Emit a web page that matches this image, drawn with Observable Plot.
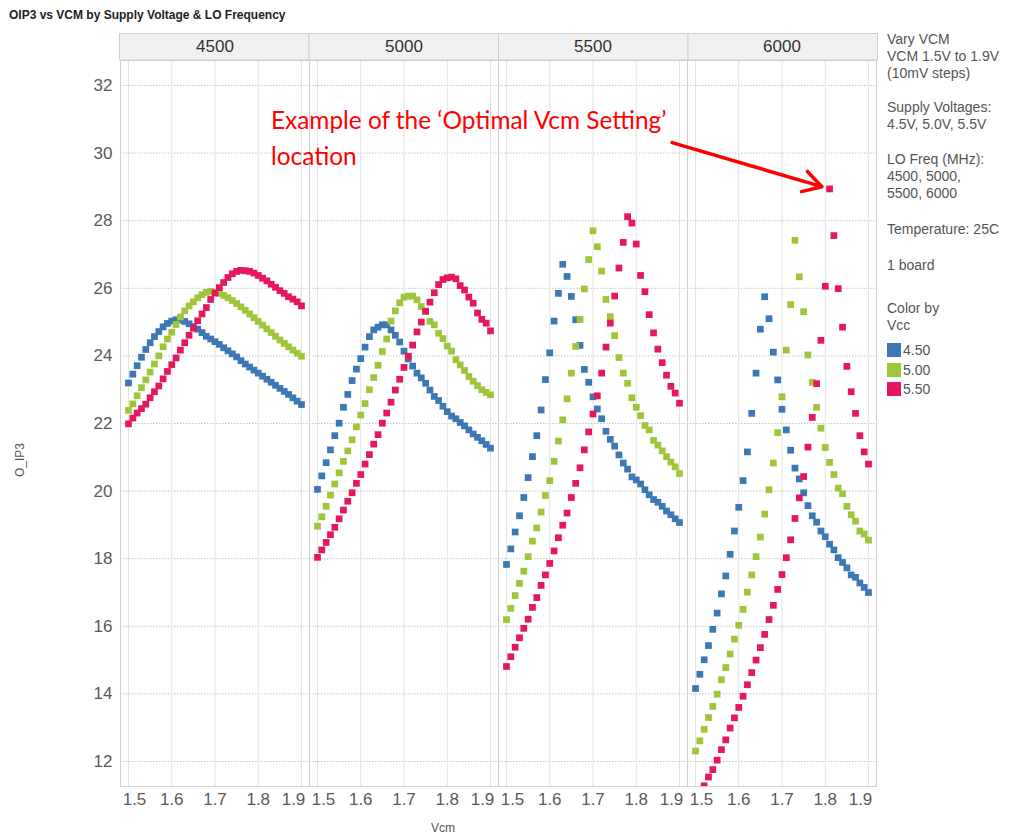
<!DOCTYPE html>
<html>
<head>
<meta charset="utf-8">
<script src="https://cdn.jsdelivr.net/npm/d3@7"></script>
<script src="https://cdn.jsdelivr.net/npm/@observablehq/plot@0.6"></script>
<style>
  body { margin: 0; background: #fff; font-family: "Liberation Sans", Arial, sans-serif; }
  #wrap { position: relative; width: 1013px; height: 840px; overflow: hidden; background: #fff; }
  #wrap svg { position: absolute; left: 0; top: 0; }
  .abs { position: absolute; white-space: nowrap; }
  .title { left: 9px; top: 8px; font-size: 12px; font-weight: bold; color: #222; }
  .legend { left: 887px; font-size: 14px; color: #555; line-height: 17px; }
  .sw { display: inline-block; width: 14px; height: 14px; vertical-align: -2px; margin-right: 2px; }
  .axt { font-size: 12px; color: #555; }
  .note { left: 271px; font-family: Lato, "Open Sans", sans-serif; font-size: 24.4px; color: #ff0000; }
</style>
</head>
<body>
<div id="wrap"></div>
<script>
// ---------- data ----------
const loFreqs = ["4500", "5000", "5500", "6000"];
const vccLevels = ["4.50", "5.00", "5.50"];
const vccColors = ["#3c78b4", "#9fc63b", "#e6185d"];
const yTicks = [12, 14, 16, 18, 20, 22, 24, 26, 28, 30, 32];
const xTicks = [1.5, 1.6, 1.7, 1.8, 1.9];

const vcm = [1.50,1.51,1.52,1.53,1.54,1.55,1.56,1.57,1.58,1.59,1.60,1.61,1.62,1.63,1.64,1.65,1.66,1.67,1.68,1.69,
             1.70,1.71,1.72,1.73,1.74,1.75,1.76,1.77,1.78,1.79,1.80,1.81,1.82,1.83,1.84,1.85,1.86,1.87,1.88,1.89,1.90];

const oip3_4500_v450 = [23.2,23.46,23.71,23.96,24.19,24.39,24.57,24.72,24.86,24.96,25.03,25.07,25.06,25.02,24.95,24.87,24.79,24.69,24.58,24.5,24.42,24.34,24.24,24.15,24.06,23.97,23.86,23.76,23.67,23.58,23.49,23.4,23.31,23.22,23.13,23.04,22.95,22.86,22.76,22.66,22.56];
const oip3_4500_v500 = [22.39,22.58,22.82,23.06,23.29,23.52,23.76,24.0,24.27,24.5,24.7,24.93,25.15,25.33,25.48,25.6,25.72,25.81,25.88,25.91,25.89,25.85,25.79,25.72,25.64,25.55,25.45,25.35,25.24,25.13,25.02,24.91,24.8,24.69,24.58,24.47,24.37,24.27,24.17,24.08,23.99];
const oip3_4500_v550 = [21.99,22.16,22.31,22.44,22.57,22.76,22.94,23.11,23.32,23.54,23.74,23.94,24.17,24.39,24.61,24.82,25.04,25.24,25.43,25.67,25.86,26.02,26.17,26.32,26.43,26.5,26.53,26.52,26.5,26.45,26.38,26.3,26.22,26.12,26.03,25.93,25.85,25.75,25.68,25.6,25.48];

const oip3_5000_v450 = [20.05,20.45,20.84,21.22,21.64,22.01,22.48,22.86,23.27,23.61,23.92,24.26,24.57,24.77,24.85,24.92,24.92,24.77,24.61,24.41,24.14,23.91,23.7,23.49,23.35,23.19,22.99,22.8,22.68,22.51,22.35,22.22,22.14,22.03,21.93,21.81,21.69,21.59,21.49,21.38,21.27];
const oip3_5000_v500 = [18.96,19.24,19.55,19.88,20.21,20.54,20.88,21.19,21.52,21.9,22.25,22.59,23.0,23.36,23.72,24.13,24.5,25.03,25.33,25.57,25.74,25.77,25.77,25.66,25.46,25.32,25.02,24.92,24.67,24.51,24.29,24.14,23.89,23.73,23.57,23.39,23.25,23.12,23.0,22.92,22.85];
const oip3_5000_v550 = [18.04,18.26,18.48,18.71,18.93,19.18,19.44,19.7,19.95,20.23,20.49,20.8,21.08,21.39,21.67,22.01,22.31,22.63,22.99,23.31,23.66,23.99,24.32,24.71,25.0,25.32,25.59,25.87,26.11,26.26,26.31,26.33,26.28,26.08,25.95,25.74,25.56,25.27,25.08,24.97,24.74];

const oip3_5500_v450 = [17.83,18.29,18.79,19.27,19.81,20.4,21.02,21.64,22.4,23.3,24.09,25.03,25.85,26.71,26.35,25.76,25.07,24.31,23.6,23.22,22.79,22.43,22.14,21.77,21.53,21.33,21.07,20.83,20.65,20.42,20.33,20.21,20.04,19.89,19.75,19.67,19.55,19.41,19.3,19.18,19.07];
const oip3_5500_v500 = [16.2,16.53,16.91,17.27,17.63,18.06,18.52,18.91,19.38,19.87,20.31,20.88,21.48,22.11,22.73,23.49,24.28,25.08,25.98,26.85,27.7,27.23,26.51,25.67,25.16,24.6,23.95,23.49,23.19,22.76,22.48,22.23,21.94,21.81,21.5,21.36,21.19,21.02,20.86,20.72,20.52];
const oip3_5500_v550 = [14.81,15.1,15.38,15.66,15.94,16.21,16.56,16.85,17.21,17.52,17.86,18.23,18.62,18.99,19.35,19.81,20.23,20.69,21.22,21.75,22.28,22.82,23.49,24.26,24.97,25.77,26.6,27.36,28.12,27.93,27.31,26.38,25.9,25.22,24.68,24.2,23.8,23.43,23.1,22.9,22.6];

const oip3_6000_v450 = [14.16,14.58,15.01,15.43,15.91,16.39,16.96,17.49,18.13,18.82,19.52,20.31,21.16,22.3,23.49,24.79,25.75,25.1,24.11,23.29,22.42,21.81,21.21,20.68,20.36,19.95,19.57,19.27,19.08,18.82,18.65,18.43,18.26,18.03,17.89,17.73,17.52,17.45,17.28,17.15,17.0];
const oip3_6000_v500 = [12.31,12.61,12.95,13.3,13.63,13.99,14.42,14.78,15.18,15.62,16.03,16.5,17.01,17.52,18.06,18.64,19.32,20.04,20.83,21.73,22.79,24.17,25.52,27.42,26.34,25.31,24.03,23.22,22.48,21.86,21.29,20.85,20.49,20.09,19.92,19.55,19.3,19.11,18.82,18.73,18.55];
const oip3_6000_v550 = [10.75,11.02,11.28,11.54,11.76,12.04,12.35,12.64,12.99,13.29,13.6,13.93,14.27,14.63,15.0,15.37,15.76,16.2,16.62,17.09,17.53,18.03,18.56,19.19,19.8,20.43,21.3,22.18,23.18,24.46,26.06,28.94,27.56,25.99,24.85,23.69,22.94,22.3,21.64,21.16,20.8];

const legendNotes = [
  ["Vary VCM", "VCM 1.5V to 1.9V", "(10mV steps)"],
  ["Supply Voltages:", "4.5V, 5.0V, 5.5V"],
  ["LO Freq (MHz):", "4500, 5000,", "5500, 6000"],
  ["Temperature: 25C"],
  ["1 board"],
  ["Color by", "Vcc"]
];
const noteLines = ["Example of the \u2018Optimal Vcm Setting\u2019", "location"];

// ---------- table ----------
const table = [
  ["4500", "4.50", oip3_4500_v450], ["4500", "5.00", oip3_4500_v500], ["4500", "5.50", oip3_4500_v550],
  ["5000", "4.50", oip3_5000_v450], ["5000", "5.00", oip3_5000_v500], ["5000", "5.50", oip3_5000_v550],
  ["5500", "4.50", oip3_5500_v450], ["5500", "5.00", oip3_5500_v500], ["5500", "5.50", oip3_5500_v550],
  ["6000", "4.50", oip3_6000_v450], ["6000", "5.00", oip3_6000_v500], ["6000", "5.50", oip3_6000_v550]
];
const rows = table.flatMap(([lo, vcc, vals]) => vals.map((v, i) => ({lo, vcc, vcm: vcm[i], oip3: v})));
const optimal = d3.greatest(rows.filter(d => d.lo === "6000" && d.vcc === "5.50"), d => d.oip3);

const axisStyle = {tickSize: 0, fontSize: 17, fill: "#5a5a5a", label: null};
const fmt = d => d.toFixed(1);

const plot = Plot.plot({
  width: 1013,
  height: 840,
  marginTop: 60,
  marginBottom: 54,
  marginLeft: 119,
  marginRight: 136,
  style: {fontFamily: "'Liberation Sans', Arial, sans-serif", background: "transparent", color: "#555"},
  fx: {domain: loFreqs, padding: 0, axis: null},
  x: {domain: [1.4815, 1.9185], axis: null},
  y: {domain: [11.26, 32.74], axis: null},
  color: {type: "ordinal", domain: vccLevels, range: vccColors},
  marks: [
    Plot.gridY({ticks: yTicks, stroke: "#c4c4c4", strokeOpacity: 1, strokeDasharray: "1.5,1.5"}),
    Plot.gridX({ticks: xTicks, stroke: "#e2e2e2", strokeOpacity: 1}),
    Plot.frame({stroke: "#cfcfcf"}),
    Plot.axisFx({anchor: "top", tickSize: 0, tickPadding: 9, fontSize: 17, fill: "#333", label: null}),
    Plot.axisY({...axisStyle, ticks: yTicks, tickPadding: 8}),
    Plot.axisX({...axisStyle, ticks: xTicks.slice(1, 4), tickPadding: 6, tickFormat: fmt}),
    Plot.axisX({...axisStyle, ticks: xTicks.slice(0, 1), tickPadding: 6, tickFormat: fmt, dx: 6}),
    Plot.axisX({...axisStyle, ticks: xTicks.slice(4), tickPadding: 6, tickFormat: fmt, dx: -8}),
    Plot.dot(rows, {fx: "lo", x: "vcm", y: "oip3", fill: "vcc", symbol: "square", r: 3.8, clip: true}),
    Plot.arrow([optimal], {
      fx: "lo",
      x1: d => d.vcm - 0.364, y1: d => d.oip3 + 1.37,
      x2: "vcm", y2: "oip3",
      stroke: "#ff0000", strokeWidth: 3.5, headLength: 9, headAngle: 60, insetEnd: 8
    })
  ]
});

// facet header boxes drawn from Plot's fx scale
const fxs = plot.scale("fx");
const band = d3.scaleBand(fxs.domain, fxs.range).paddingInner(fxs.paddingInner || 0).paddingOuter(fxs.paddingOuter || 0).align(fxs.align ?? 0.5);
const hdr = d3.select(plot).insert("g", ":first-child");
for (const lo of band.domain()) {
  hdr.append("rect")
    .attr("x", band(lo) + 0.5).attr("y", 33.5)
    .attr("width", band.bandwidth()).attr("height", 26.5)
    .attr("fill", "#f1f1f1").attr("stroke", "#cfcfcf");
}

const wrap = document.getElementById("wrap");
wrap.appendChild(plot);

function addDiv(cls, html, style) {
  const d = document.createElement("div");
  d.className = "abs " + cls;
  d.innerHTML = html;
  Object.assign(d.style, style || {});
  wrap.appendChild(d);
  return d;
}

addDiv("title", "OIP3 vs VCM by Supply Voltage &amp; LO Frequency");

// right-hand notes
const noteTops = [31, 99, 151, 221, 257, 300];
legendNotes.forEach((lines, k) => addDiv("legend", lines.join("<br>"), {top: noteTops[k] + "px"}));
vccLevels.forEach((v, k) => addDiv("legend",
  `<span class="sw" style="background:${vccColors[k]}"></span>${v}`,
  {top: (342 + k * 19.5) + "px"}));

// axis titles
addDiv("axt", "O_IP3", {left: "20px", top: "460px", transform: "translate(-50%,-50%) rotate(-90deg)"});
addDiv("axt", "Vcm", {left: "443px", top: "828px", transform: "translate(-50%,-50%)"});

// annotation text
addDiv("note", noteLines[0], {top: "105px"});
addDiv("note", noteLines[1], {top: "141px"});
</script>
</body>
</html>
